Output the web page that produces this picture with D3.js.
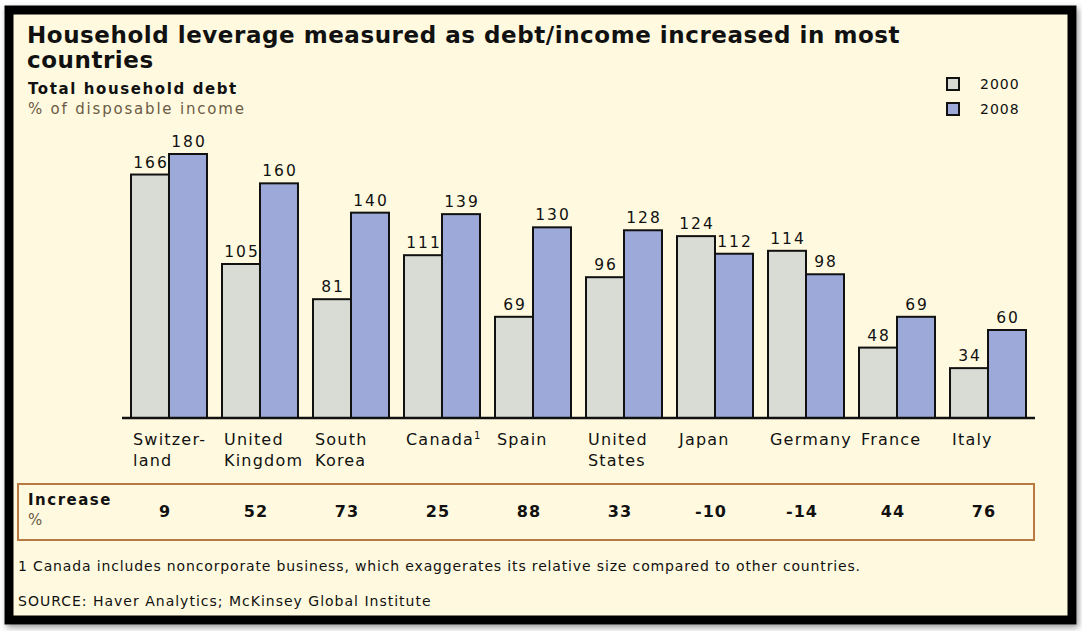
<!DOCTYPE html>
<html><head><meta charset="utf-8">
<script src="https://cdn.jsdelivr.net/npm/d3@7"></script>
<style>
html,body{margin:0;padding:0;background:#ffffff;}
svg{display:block;}
text{font-family:"DejaVu Sans",Verdana,sans-serif;fill:#111;}
</style></head>
<body>
<svg id="chart" width="1082" height="631"></svg>
<script>
const countries = ["Switzerland","United Kingdom","South Korea","Canada","Spain","United States","Japan","Germany","France","Italy"];
const labelLines = [["Switzer-","land"],["United","Kingdom"],["South","Korea"],["Canada"],["Spain"],["United","States"],["Japan"],["Germany"],["France"],["Italy"]];
const values2000 = [166,105,81,111,69,96,124,114,48,34];
const values2008 = [180,160,140,139,130,128,112,98,69,60];
const increase = ["9","52","73","25","88","33","-10","-14","44","76"];
const seriesNames = ["2000","2008"];
const colors = ["#d9dcd4","#9daad9"];

const svg = d3.select("#chart");
const defs = svg.append("defs");
const f = defs.append("filter").attr("id","sh").attr("x","-5%").attr("y","-5%").attr("width","110%").attr("height","110%");
f.append("feDropShadow").attr("dx",2).attr("dy",3).attr("stdDeviation",3).attr("flood-color","#555").attr("flood-opacity",0.6);

// frame
svg.append("rect").attr("x",9).attr("y",10).attr("width",1063).attr("height",610)
  .attr("fill","#fffadf").attr("stroke","#000").attr("stroke-width",9).attr("filter","url(#sh)");

// titles
svg.append("text").attr("x",27).attr("y",43).attr("font-size",23).attr("font-weight","bold").attr("letter-spacing",0.55)
  .text("Household leverage measured as debt/income increased in most");
svg.append("text").attr("x",27).attr("y",68).attr("font-size",23).attr("font-weight","bold").attr("letter-spacing",0.55).text("countries");
svg.append("text").attr("x",28).attr("y",94).attr("font-size",15).attr("font-weight","bold").attr("letter-spacing",1.6).text("Total household debt");
svg.append("text").attr("x",28).attr("y",114).attr("font-size",15).attr("letter-spacing",1.8).style("fill","#6b5a45").text("% of disposable income");

// legend
seriesNames.forEach((s,i)=>{
  svg.append("rect").attr("x",947).attr("y",78+i*25).attr("width",12).attr("height",12)
    .attr("fill",colors[i]).attr("stroke","#111").attr("stroke-width",2);
  svg.append("text").attr("x",980).attr("y",89+i*25).attr("font-size",14).attr("letter-spacing",1).text(s);
});

const baseY = 418;
const x = d3.scaleBand().domain(countries).range([131,1026]).paddingInner(0.165).paddingOuter(0);
const xs = d3.scaleBand().domain(seriesNames).range([0,x.bandwidth()]).padding(0);
const y = d3.scaleLinear().domain([0,180]).range([baseY,154]);

const g = svg.append("g");
countries.forEach((c,i)=>{
  const vals = [values2000[i],values2008[i]];
  vals.forEach((v,j)=>{
    const bx = x(c)+xs(seriesNames[j]);
    g.append("rect").attr("x",bx).attr("y",y(v)).attr("width",xs.bandwidth()).attr("height",baseY-y(v))
      .attr("fill",colors[j]).attr("stroke","#111").attr("stroke-width",2);
    g.append("text").attr("x",bx+xs.bandwidth()/2+1).attr("y",y(v)-7).attr("text-anchor","middle")
      .attr("font-size",15.5).attr("letter-spacing",2).text(v);
  });
  const t = g.append("text").attr("x",x(c)+2).attr("y",445).attr("font-size",16).attr("letter-spacing",1.2);
  labelLines[i].forEach((ln,k)=>{
    t.append("tspan").attr("x",x(c)+2).attr("y",445+k*21).text(ln);
  });
  if(c==="Canada"){
    t.append("tspan").attr("font-size",10).attr("dy",-6).text("1");
  }
});
// baseline
svg.append("line").attr("x1",122).attr("x2",1035).attr("y1",baseY).attr("y2",baseY)
  .attr("stroke","#111").attr("stroke-width",2.5);

// increase box
svg.append("rect").attr("x",18).attr("y",484).attr("width",1016).attr("height",56)
  .attr("fill","none").attr("stroke","#b87a42").attr("stroke-width",2);
svg.append("text").attr("x",28).attr("y",505).attr("font-size",15).attr("font-weight","bold").attr("letter-spacing",1.5).text("Increase");
svg.append("text").attr("x",28).attr("y",525).attr("font-size",15).style("fill","#6b5a45").text("%");
countries.forEach((c,i)=>{
  svg.append("text").attr("x",x(c)+x.bandwidth()/2-4).attr("y",517).attr("text-anchor","middle")
    .attr("font-size",16).attr("font-weight","bold").attr("letter-spacing",1).text(increase[i]);
});

svg.append("text").attr("x",18).attr("y",571).attr("font-size",14).attr("letter-spacing",0.85)
  .text("1 Canada includes noncorporate business, which exaggerates its relative size compared to other countries.");
svg.append("text").attr("x",18).attr("y",606).attr("font-size",14).attr("letter-spacing",1.0)
  .text("SOURCE: Haver Analytics; McKinsey Global Institute");
</script>
</body></html>
